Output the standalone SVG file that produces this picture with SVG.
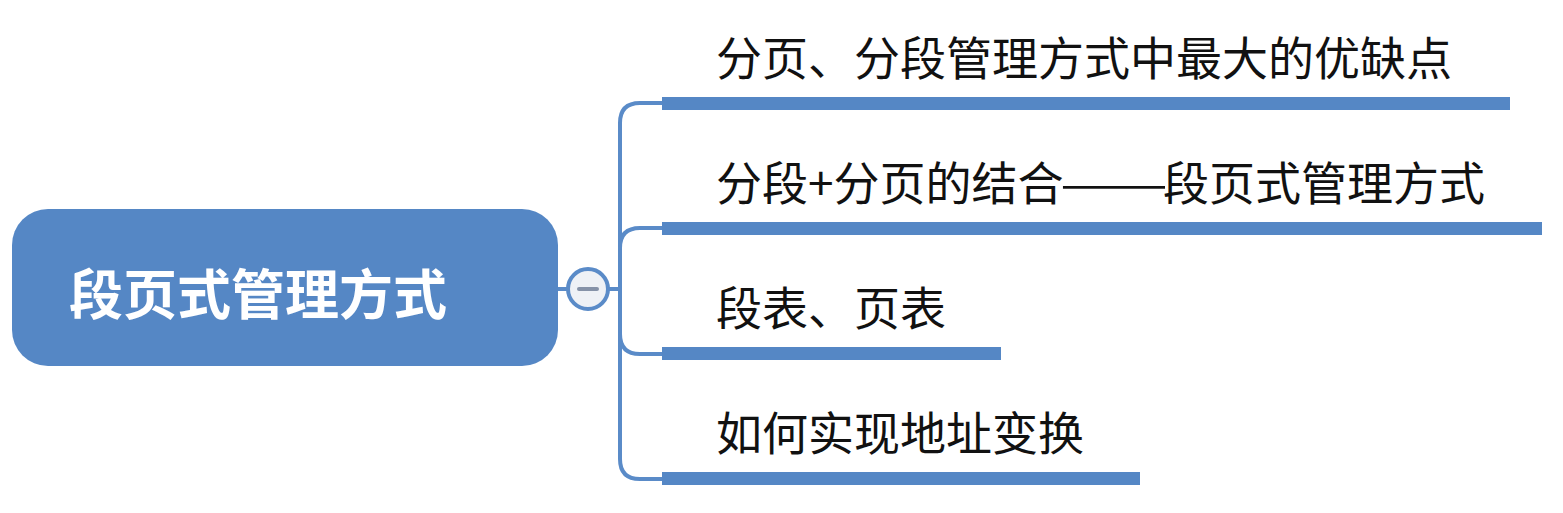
<svg xmlns="http://www.w3.org/2000/svg" width="1563" height="513" viewBox="0 0 1563 513">
  <style>
    .conn { fill: none; stroke: #5a8bc8; stroke-width: 4; stroke-linecap: round; }
    .bar { fill: #5587c5; }
    .label { font-family: "Noto Sans CJK SC", "Noto Sans", sans-serif; font-size: 46px; fill: #111111; }
    .root-label { font-family: "Noto Sans CJK SC", "Noto Sans", sans-serif; font-size: 54px; font-weight: bold; fill: #ffffff; }
  </style>
  <rect width="1563" height="513" fill="#ffffff"/>
  <g id="connectors">
    <path class="conn" d="M558,289 L567,289"/>
    <path class="conn" d="M609,289 L620,289"/>
    <path class="conn" d="M662,103 L640,103 Q620,103 620,123 L620,459 Q620,479 640,479 L662,479"/>
    <path class="conn" d="M620,248 Q620,228 640,228 L662,228"/>
    <path class="conn" d="M620,334 Q620,354 640,354 L662,354"/>
  </g>
  <g id="root">
    <rect x="12" y="209" width="546" height="157" rx="36" ry="36" fill="#5587c5"/>
    <text class="root-label" x="69" y="315">段页式管理方式</text>
  </g>
  <g id="collapse">
    <circle cx="588" cy="289" r="20" fill="#eef1f6" stroke="#5a8bc8" stroke-width="4"/>
    <line x1="579" y1="289" x2="597" y2="289" stroke="#8592a8" stroke-width="4" stroke-linecap="round"/>
  </g>
  <g id="branch1">
    <rect class="bar" x="662" y="97" width="848" height="13"/>
    <text class="label" x="716" y="75">分页、分段管理方式中最大的优缺点</text>
  </g>
  <g id="branch2">
    <rect class="bar" x="662" y="222" width="880" height="13"/>
    <text class="label" y="200"><tspan x="716">分段+分页的结合</tspan><tspan x="1060" textLength="108" lengthAdjust="spacingAndGlyphs">——</tspan><tspan x="1163">段页式管理方式</tspan></text>
  </g>
  <g id="branch3">
    <rect class="bar" x="662" y="347" width="339" height="13"/>
    <text class="label" x="716" y="325">段表、页表</text>
  </g>
  <g id="branch4">
    <rect class="bar" x="662" y="472" width="478" height="13"/>
    <text class="label" x="716" y="450">如何实现地址变换</text>
  </g>
</svg>
